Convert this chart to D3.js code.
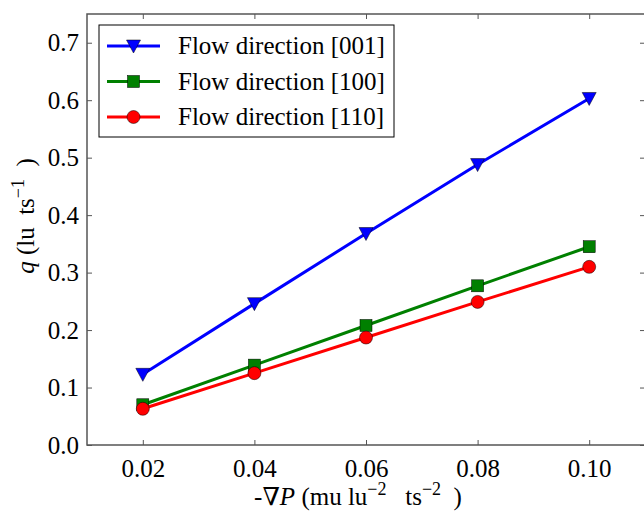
<!DOCTYPE html>
<html>
<head>
<meta charset="utf-8">
<script src="https://cdn.jsdelivr.net/npm/d3@7"></script>
<style>
  body { margin: 0; background: #fff; }
  svg { display: block; }
  svg text { font-family: "Liberation Serif", "Times New Roman", Times, Tinos, "DejaVu Serif", "Noto Serif", serif !important; fill: #000; }
</style>
</head>
<body>
<svg id="chart" width="644" height="512"></svg>
<script>
var gradP = [0.02, 0.04, 0.06, 0.08, 0.10];
var flow001 = [0.123, 0.246, 0.368, 0.488, 0.603];
var flow100 = [0.070, 0.139, 0.208, 0.277, 0.345];
var flow110 = [0.063, 0.125, 0.187, 0.249, 0.310];
var seriesNames = ["Flow direction [001]", "Flow direction [100]", "Flow direction [110]"];
var xTicks = [0.02, 0.04, 0.06, 0.08, 0.10];
var yTicks = [0.0, 0.1, 0.2, 0.3, 0.4, 0.5, 0.6, 0.7];

(function () {
  var svg = d3.select("#chart");
  var pLeft = 87, pRight = 645, pTop = 14, pBottom = 445;

  var x = d3.scaleLinear().domain([0.01, 0.11]).range([pLeft, pRight]);
  var y = d3.scaleLinear().domain([0, 0.75]).range([pBottom, pTop]);

  var series = [
    {name: seriesNames[0], vals: flow001, color: "#0000ff", marker: "tri"},
    {name: seriesNames[1], vals: flow100, color: "#008000", marker: "sq"},
    {name: seriesNames[2], vals: flow110, color: "#ff0000", marker: "circ"}
  ];

  var spine = "#555";

  // ticks on all four sides, pointing inward
  var gx = svg.append("g").attr("transform", "translate(0," + pBottom + ")")
    .call(d3.axisBottom(x).tickValues(xTicks).tickFormat(d3.format(".2f")).tickSizeInner(-5).tickSizeOuter(0).tickPadding(14));
  var gxTop = svg.append("g").attr("transform", "translate(0," + pTop + ")")
    .call(d3.axisTop(x).tickValues(xTicks).tickFormat("").tickSizeInner(-5).tickSizeOuter(0));
  var gy = svg.append("g").attr("transform", "translate(" + pLeft + ",0)")
    .call(d3.axisLeft(y).tickValues(yTicks).tickFormat(d3.format(".1f")).tickSizeInner(-5).tickSizeOuter(0).tickPadding(8));
  var gyR = svg.append("g").attr("transform", "translate(" + pRight + ",0)")
    .call(d3.axisRight(y).tickValues(yTicks).tickFormat("").tickSizeInner(-5).tickSizeOuter(0));

  [gx, gxTop, gy, gyR].forEach(function(g) {
    g.attr("font-family", null);
    g.select(".domain").remove();
    g.selectAll(".tick line").attr("stroke", spine).attr("stroke-width", 1);
    g.selectAll(".tick text").style("font-size", "25px").attr("fill", "#000");
  });

  svg.append("rect")
    .attr("x", pLeft).attr("y", pTop)
    .attr("width", pRight - pLeft).attr("height", pBottom - pTop)
    .attr("fill", "none").attr("stroke", spine).attr("stroke-width", 1.5);

  function drawMarker(g, type, color, cx, cy) {
    if (type == "tri") {
      g.append("path")
        .attr("d", "M" + (cx - 7) + "," + (cy - 6) + "L" + (cx + 7) + "," + (cy - 6) + "L" + cx + "," + (cy + 7) + "Z")
        .attr("fill", color).attr("stroke", "#000").attr("stroke-width", 0.5);
    } else if (type == "sq") {
      g.append("rect").attr("x", cx - 6).attr("y", cy - 6).attr("width", 12).attr("height", 12)
        .attr("fill", color).attr("stroke", "#000").attr("stroke-width", 0.5);
    } else {
      g.append("circle").attr("cx", cx).attr("cy", cy).attr("r", 6.5)
        .attr("fill", color).attr("stroke", "#000").attr("stroke-width", 0.5);
    }
  }

  var line = d3.line().x(function(d) { return x(d[0]); }).y(function(d) { return y(d[1]); });

  series.forEach(function(s) {
    var pts = gradP.map(function(p, i) { return [p, s.vals[i]]; });
    svg.append("path").datum(pts).attr("d", line)
      .attr("fill", "none").attr("stroke", s.color).attr("stroke-width", 3);
    var mg = svg.append("g");
    pts.forEach(function(p) { drawMarker(mg, s.marker, s.color, x(p[0]), y(p[1])); });
  });

  // legend
  var lg = svg.append("g");
  lg.append("rect").attr("x", 99).attr("y", 25).attr("width", 295).attr("height", 112)
    .attr("fill", "#fff").attr("stroke", "#000").attr("stroke-width", 1);
  series.forEach(function(s, i) {
    var ly = 46 + i * 35.5;
    lg.append("line").attr("x1", 107).attr("x2", 160).attr("y1", ly).attr("y2", ly)
      .attr("stroke", s.color).attr("stroke-width", 3);
    drawMarker(lg, s.marker, s.color, 133.5, ly);
    lg.append("text").attr("x", 178).attr("y", ly + 8).style("font-size", "25px").text(s.name);
  });

  // axis labels
  var xl = svg.append("text").attr("x", 358).attr("y", 505).attr("text-anchor", "middle")
    .style("font-size", "25px").attr("xml:space", "preserve");
  xl.append("tspan").text("-\u2207");
  xl.append("tspan").style("font-style", "italic").text("P");
  xl.append("tspan").text(" (mu lu");
  xl.append("tspan").attr("dy", -10).style("font-size", "18px").text("\u22122");
  xl.append("tspan").attr("dy", 10).text("   ts");
  xl.append("tspan").attr("dy", -10).style("font-size", "18px").text("\u22122");
  xl.append("tspan").attr("dy", 10).text("  )");

  var yl = svg.append("text").attr("transform", "translate(34,216) rotate(-90)").attr("text-anchor", "middle")
    .style("font-size", "25px").attr("xml:space", "preserve");
  yl.append("tspan").style("font-style", "italic").text("q");
  yl.append("tspan").text(" (lu  ts");
  yl.append("tspan").attr("dy", -10).style("font-size", "18px").text("\u22121");
  yl.append("tspan").attr("dy", 10).text("  )");
})();
</script>
</body>
</html>
